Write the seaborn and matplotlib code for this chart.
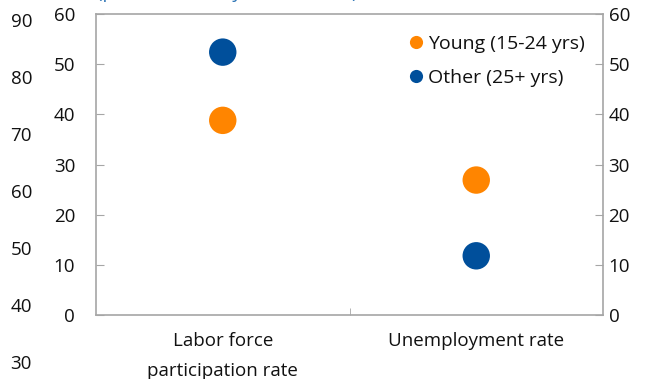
import matplotlib
matplotlib.use("Agg")
import matplotlib.pyplot as plt
import seaborn as sns
import pandas as pd

# values (percent)
categories = ["Labor force\nparticipation rate", "Unemployment rate"]
young = [38.8, 26.9]
other = [52.4, 11.8]
groups = ["Young (15-24 yrs)", "Other (25+ yrs)"]
colors = ["#FF8500", "#004F9B"]
outer_ticks = [30, 40, 50, 60, 70, 80, 90]
inner_ticks = [0, 10, 20, 30, 40, 50, 60]

df = pd.DataFrame({
    "indicator": categories * 2,
    "value": young + other,
    "group": [groups[0]] * 2 + [groups[1]] * 2,
})

sns.set_style("white")
plt.rcParams["font.family"] = ["Open Sans", "DejaVu Sans"]
plt.rcParams["text.color"] = "#111111"
plt.rcParams["xtick.labelcolor"] = "#111111"
plt.rcParams["ytick.labelcolor"] = "#111111"
grey = "#a6a6a6"
fs = 13.5

fig = plt.figure(figsize=(6.47, 3.79), dpi=100)
ax = fig.add_axes([96 / 647, 1 - 315 / 379, 507 / 647, 301 / 379])

sns.scatterplot(data=df, x="indicator", y="value", hue="group",
                palette=colors, s=390, linewidth=0, ax=ax, zorder=3)
ax.set_xlim(-0.5, 1.5)
ax.set_ylim(0, 60)
ax.set_yticks(inner_ticks)
ax.set_xlabel("")
ax.set_ylabel("")
for sp in ax.spines.values():
    sp.set_color(grey)
    sp.set_linewidth(1.2)
ax.tick_params(axis="y", direction="in", length=5.5, color=grey,
               labelsize=fs, pad=15, left=True)
ax.tick_params(axis="x", length=0, labelsize=fs, pad=12)
for lab in ax.get_xticklabels():
    lab.set_linespacing(1.9)
ax.set_xticks([0.5], minor=True)
ax.tick_params(axis="x", which="minor", direction="in", length=5,
               color=grey, bottom=True)

ax.legend(loc="upper left", bbox_to_anchor=(0.612, 0.93), frameon=False,
          fontsize=14, markerscale=0.48, handletextpad=0.1,
          handlelength=1.0, labelspacing=0.8, borderpad=0,
          borderaxespad=0)

ax2 = ax.twinx()
ax2.set_ylim(0, 60)
ax2.set_yticks(inner_ticks)
ax2.tick_params(axis="y", direction="in", length=5.5, color=grey,
                labelsize=fs, pad=4, right=True)
for sp in ax2.spines.values():
    sp.set_visible(False)

# outer left scale
ax3 = fig.add_axes([32 / 647, 1 - 362 / 379, 0.001, 342 / 379])
ax3.set_ylim(30, 90)
ax3.set_yticks(outer_ticks)
ax3.set_xticks([])
ax3.tick_params(axis="y", length=0, pad=0, labelsize=fs)
ax3.patch.set_visible(False)
for sp in ax3.spines.values():
    sp.set_visible(False)

fig.text(97 / 647, 1 + 1.5 / 379, "(percent, latest year available)",
         color="#2E75B6", fontsize=fs, va="baseline")

fig.savefig("out.png", dpi=100)
